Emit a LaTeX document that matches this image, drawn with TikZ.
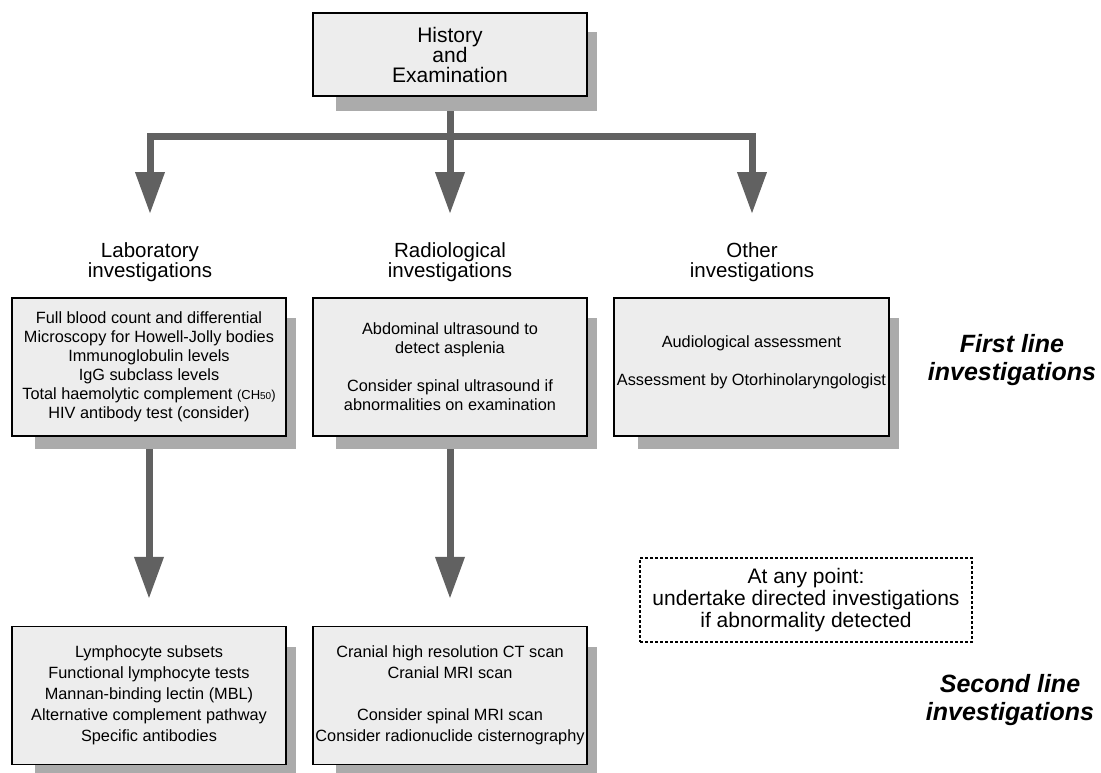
\documentclass[tikz,border=0pt]{standalone}
\usepackage{fontspec}
\setmainfont{Liberation Sans}
\usetikzlibrary{arrows.meta}
\usetikzlibrary{shadows}
\usetikzlibrary{backgrounds}
\definecolor{box-gray}{gray}{0.93}
\definecolor{shadow-gray}{gray}{0.67}
\definecolor{arrow-gray}{gray}{0.38}
\tikzstyle{investbox}=[draw=black,line width=1.4pt,fill=box-gray,minimum width=274pt,minimum height=138pt,align=center,inner sep=0pt,
  drop shadow={shadow xshift=17.5pt,shadow yshift=-17.5pt,shadow scale=0.95,fill=shadow-gray,opacity=1}]
\tikzstyle{firstrow}=[font=\fontsize{16.3}{19}\selectfont]
\tikzstyle{secondrow}=[font=\fontsize{16.3}{21}\selectfont]
\tikzstyle{heading}=[anchor=north,inner sep=0pt,align=center,font=\fontsize{20.5}{20}\selectfont]
\tikzstyle{linelabel}=[anchor=north,inner sep=0pt,align=center,font=\fontsize{25}{28}\selectfont\bfseries\itshape]
\tikzstyle{flowline}=[arrow-gray,line width=7pt,line cap=round]
\tikzstyle{flowarrow}=[flowline,-{Triangle[length=42pt,width=28pt]}]
\newcommand{\chfifty}{{\fontsize{13}{13}\selectfont (CH{\fontsize{10}{10}\selectfont 50})}}

\begin{document}
\begin{tikzpicture}[x=1pt,y=-1pt]
\useasboundingbox (0,0) rectangle (1101,772);
% top box
\node[investbox,minimum height=83pt,font=\fontsize{21}{20}\selectfont] (hist) at (450,54.5) {History\\and\\Examination};
% column headings
\node[heading] (labhead) at (150,242) {Laboratory\\investigations};
\node[heading] (radhead) at (450,242) {Radiological\\investigations};
\node[heading] (othhead) at (752,242) {Other\\investigations};
% first line boxes
\node[investbox,firstrow] (lab) at (149,367) {Full blood count and differential\\Microscopy for Howell-Jolly bodies\\Immunoglobulin levels\\IgG subclass levels\\Total haemolytic complement \chfifty\\HIV antibody test (consider)};
\node[investbox,firstrow] (rad) at (450,367) {Abdominal ultrasound to\\detect asplenia\\[19pt]Consider spinal ultrasound if\\abnormalities on examination};
\node[investbox,firstrow,minimum width=275pt] (oth) at (751.5,367) {Audiological assessment\\[19pt]Assessment by Otorhinolaryngologist\\[-6pt]};
% second line boxes
\node[investbox,secondrow] (lab2) at (149,695.5) {Lymphocyte subsets\\Functional lymphocyte tests\\Mannan-binding lectin (MBL)\\Alternative complement pathway\\Specific antibodies};
\node[investbox,secondrow] (rad2) at (450,695.5) {Cranial high resolution CT scan\\Cranial MRI scan\\[21pt]Consider spinal MRI scan\\Consider radionuclide cisternography};
% note box
\node[draw=black,densely dashed,line width=1.8pt,minimum width=332pt,minimum height=84pt,align=center,inner sep=0pt,font=\fontsize{21}{22}\selectfont] (anypoint) at (806,600) {At any point:\\undertake directed investigations\\if abnormality detected};
% row labels
\node[linelabel] (firstline) at (1012,334) {First line\\investigations};
\node[linelabel] (secondline) at (1010,674) {Second line\\investigations};
% arrows behind the boxes
\begin{scope}[on background layer]
	\coordinate (split) at (450,136);
	\draw[flowline] (hist.south) -- (split);
	\draw[flowarrow,shorten >=28pt] (split) -| (labhead.north);
	\draw[flowarrow,shorten >=28pt] (split) -- (radhead.north);
	\draw[flowarrow,shorten >=28pt] (split) -| (othhead.north);
	\draw[flowarrow,shorten >=27pt] (lab.south) -- (lab2.north);
	\draw[flowarrow,shorten >=27pt] (rad.south) -- (rad2.north);
\end{scope}
\end{tikzpicture}
\end{document}
